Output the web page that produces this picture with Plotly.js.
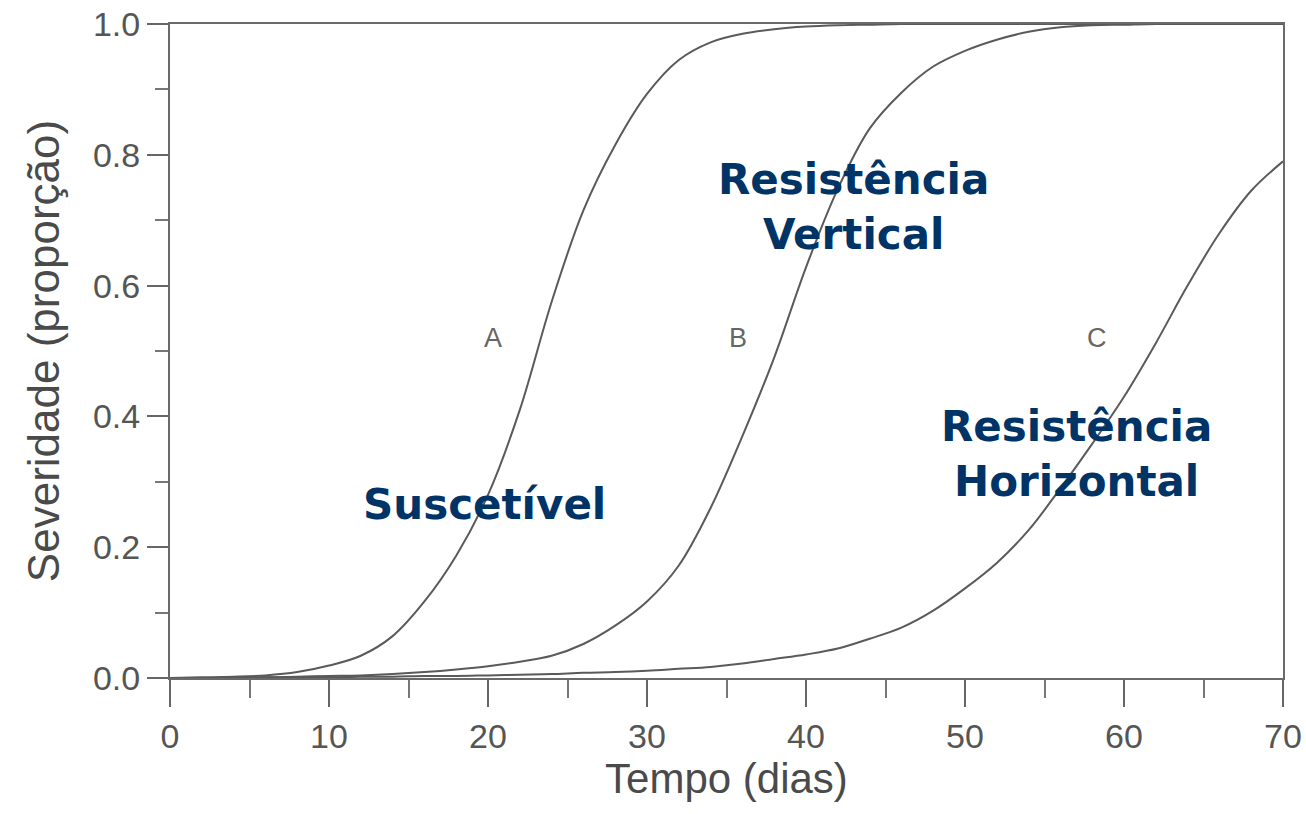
<!DOCTYPE html>
<html>
<head>
<meta charset="utf-8">
<script src="https://cdn.plot.ly/plotly-3.0.1.min.js"></script>
<style>html,body{margin:0;padding:0;background:#fff;}#chart{width:1306px;height:814px;}</style>
</head>
<body>
<div id="chart"></div>
<script>
// Tempo (dias)
const days = [0,2,4,6,8,10,12,14,16,18,20,22,24,26,28,30,32,34,36,38,40,42,44,46,48,50,52,54,56,58,60,62,64,66,68,70];
// Curva A - Suscetível
const curveA = [0,0.001,0.002,0.004,0.009,0.019,0.034,0.064,0.117,0.187,0.28,0.41,0.575,0.715,0.815,0.893,0.945,0.972,0.985,0.992,0.996,0.998,0.999,1,1,1,1,1,1,1,1,1,1,1,1,1];
// Curva B - Resistência Vertical
const curveB = [0,0,0.001,0.001,0.002,0.003,0.004,0.006,0.009,0.013,0.018,0.025,0.034,0.052,0.08,0.117,0.172,0.26,0.37,0.49,0.628,0.748,0.84,0.895,0.935,0.959,0.976,0.988,0.995,0.998,0.999,1,1,1,1,1];
// Curva C - Resistência Horizontal
const curveC = [0,0,0,0.001,0.001,0.001,0.002,0.002,0.003,0.003,0.004,0.005,0.006,0.008,0.009,0.011,0.014,0.017,0.022,0.029,0.036,0.045,0.06,0.077,0.103,0.137,0.176,0.226,0.29,0.358,0.43,0.512,0.6,0.68,0.745,0.79];

const curveLetters = ["A","B","C"];
const letterX = [20.3,35.7,58.3];
const letterY = [0.52,0.52,0.52];

const labelTexts = ["Suscetível","Resistência<br>Vertical","Resistência<br>Horizontal"];
const labelX = [19.8,43.0,57.0];
const labelY = [0.265,0.72,0.342];

const xTicks = [0,10,20,30,40,50,60,70];
const yTicks = [0,0.2,0.4,0.6,0.8,1.0];
const yTickText = ["0.0","0.2","0.4","0.6","0.8","1.0"];

const lineStyle = {color:'#5a5a5a', width:2, shape:'spline', smoothing:1};
const traces = [curveA, curveB, curveC].map(v => ({
  x: days, y: v, type:'scatter', mode:'lines', line: lineStyle, hoverinfo:'skip', showlegend:false
}));

const annotations = [];
curveLetters.forEach((t,i)=>annotations.push({
  x: letterX[i], y: letterY[i], xref:'x', yref:'y', text:t, showarrow:false,
  font:{family:'Liberation Sans, Arial, sans-serif', size:27, color:'#666'}
}));
labelTexts.forEach((t,i)=>annotations.push({
  x: labelX[i], y: labelY[i], xref:'x', yref:'y', text:'<b>'+t+'</b>', showarrow:false,
  font:{family:'DejaVu Sans, Verdana, sans-serif', size:42, color:'#003366'}, align:'center'
}));

const layout = {
  width:1306, height:814,
  margin:{l:170, r:23, t:24, b:136},
  paper_bgcolor:'#fff', plot_bgcolor:'#fff',
  showlegend:false,
  xaxis:{
    range:[0,70], tickvals:xTicks, ticks:'outside', ticklen:27, tickwidth:2, tickcolor:'#666',
    minor:{dtick:5, tick0:0, ticks:'outside', ticklen:18, tickwidth:2, tickcolor:'#777', showgrid:false},
    showline:true, mirror:true, linecolor:'#6a6a6a', linewidth:2,
    showgrid:false, zeroline:false,
    tickfont:{family:'Liberation Sans, Arial, sans-serif', size:34, color:'#555'},
    title:{text:'Tempo (dias)', font:{family:'Liberation Sans, Arial, sans-serif', size:42, color:'#4a4a4a'}, standoff:8}
  },
  yaxis:{
    range:[0,1], tickvals:yTicks, ticktext:yTickText, ticks:'outside', ticklen:21, tickwidth:2, tickcolor:'#666',
    minor:{dtick:0.1, tick0:0, ticks:'outside', ticklen:13, tickwidth:2, tickcolor:'#777', showgrid:false},
    showline:true, mirror:true, linecolor:'#6a6a6a', linewidth:2,
    showgrid:false, zeroline:false,
    tickfont:{family:'Liberation Sans, Arial, sans-serif', size:34, color:'#555'},
    title:{text:'Severidade (proporção)', font:{family:'Liberation Sans, Arial, sans-serif', size:44, color:'#4a4a4a'}, standoff:20}
  },
  annotations: annotations
};

Plotly.newPlot('chart', traces, layout, {staticPlot:true, displayModeBar:false});
</script>
</body>
</html>
